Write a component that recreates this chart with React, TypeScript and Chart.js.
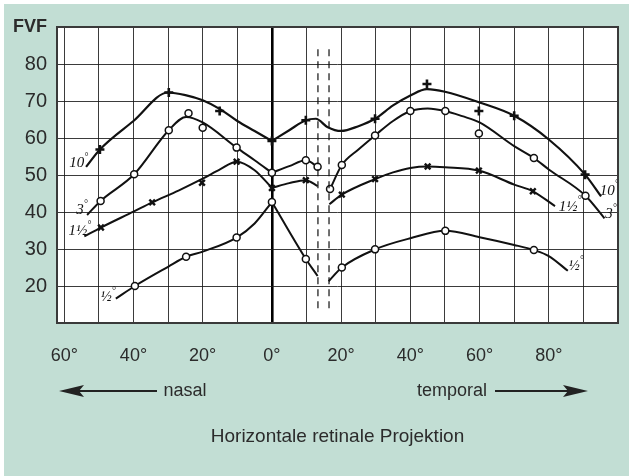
import React, { useEffect, useRef } from "react";
import { Chart, registerables } from "chart.js";

Chart.register(...registerables);

type Pt = [number, number];

// x = horizontal retinal projection in degrees (negative = nasal), y = FVF
const curve10Nasal: Pt[] = [[-53.7, 52.2], [-49.7, 56.9], [-40, 64.6], [-30, 72.3], [-25, 71.6], [-20, 70.2], [-15, 67.8], [-10, 64.6], [-5, 61.9], [0, 59.2]];
const curve10Temporal: Pt[] = [[0, 59.2], [5, 62.1], [9.8, 64.8], [12.7, 65.2], [16, 63.0], [20, 61.9], [25, 63.2], [29.8, 65.2], [35, 68.8], [40, 71.5], [44.8, 73.2], [50, 72.5], [60, 69.6], [70, 66.0], [80, 59.6], [90.5, 50.1], [95.1, 44.2]];
const marks10: Pt[] = [[-49.7, 56.9], [-29.8, 72.3], [-15.1, 67.3], [0, 59.2], [9.8, 64.8], [29.8, 65.2], [44.8, 74.6], [59.8, 67.3], [70, 66.0], [90.5, 50.1]];

const curve3NasalA: Pt[] = [[-53.4, 39.2], [-49.5, 43.0], [-39.8, 50.2], [-29.8, 62.1], [-24.8, 65.7], [-20, 64.2], [-10.2, 57.4], [-5, 54.0], [0, 50.6]];
const curve3NasalB: Pt[] = [[0, 50.6], [5, 52.4], [9.8, 54.0], [13.2, 52.2]];
const curve3Temporal: Pt[] = [[16.8, 46.2], [20.2, 52.7], [25, 56.9], [29.8, 60.7], [35, 64.6], [40, 67.3], [45, 68.0], [50.1, 67.3], [55, 65.9], [60, 64.2], [70, 57.8], [75.7, 54.6], [80, 51.5], [90.6, 44.4], [96.1, 38.3]];
const marks3: Pt[] = [[-49.5, 43.0], [-39.8, 50.2], [-29.8, 62.1], [-24.1, 66.7], [-20, 62.8], [-10.2, 57.4], [0, 50.6], [9.8, 54.0], [13.2, 52.2], [16.8, 46.2], [20.2, 52.7], [29.8, 60.7], [40, 67.3], [50.1, 67.3], [59.8, 61.2], [75.7, 54.6], [90.6, 44.4]];

const curve15NasalA: Pt[] = [[-54.2, 33.4], [-49.4, 35.8], [-40, 40.1], [-34.6, 42.6], [-27, 45.8], [-20, 49.0], [-15, 51.5], [-10.2, 53.6], [-5, 51.3], [0, 46.5]];
const curve15NasalB: Pt[] = [[0, 46.5], [5, 47.8], [9.8, 48.6], [13.2, 47.0]];
const curve15Temporal: Pt[] = [[16.6, 42.1], [20.2, 44.7], [29.8, 48.9], [35, 50.7], [40, 51.9], [45, 52.3], [50, 52.1], [59.8, 51.2], [70, 47.4], [75.4, 45.6], [81.8, 41.6]];
const marks15: Pt[] = [[-49.4, 35.8], [-34.6, 42.6], [-20.2, 47.9], [-10.2, 53.6], [0, 46.5], [9.8, 48.6], [20.2, 44.7], [29.8, 48.9], [45, 52.3], [59.8, 51.2], [75.4, 45.6]];

const curveHalfNasalA: Pt[] = [[-45.1, 16.6], [-39.6, 20.0], [-30, 25.2], [-24.8, 27.9], [-20, 29.3], [-10.2, 33.1], [-5, 36.9], [0, 42.7]];
const curveHalfNasalB: Pt[] = [[0, 42.7], [9.8, 27.3], [13.2, 22.7]];
const curveHalfTemporal: Pt[] = [[16.4, 21.3], [20.2, 25.0], [29.8, 29.9], [40, 32.9], [50.1, 34.9], [60, 33.2], [70, 31.1], [75.7, 29.7], [80, 28.1], [85.5, 24.1]];
const marksHalf: Pt[] = [[-39.6, 20.0], [-24.8, 27.9], [-10.2, 33.1], [0, 42.7], [9.8, 27.3], [20.2, 25.0], [29.8, 29.9], [50.1, 34.9], [75.7, 29.7]];

// curve labels: [base text, x, y]
const curveLabels: [string, number, number][] = [
  ["10", -55.8, 53.8], ["3", -54.9, 41.1], ["1½", -55.5, 35.4], ["½", -47.3, 17.5],
  ["10", 97.5, 46.3], ["3", 98.0, 39.9], ["1½", 86.2, 42.0], ["½", 87.9, 25.9],
];

// blind spot boundaries (dashed)
const blindSpotX = [13.3, 16.5];
const blindSpotY: [number, number] = [13.4, 84];

const X_MIN = -62.1, X_MAX = 100, Y_MIN = 10, Y_MAX = 90;
const GREEN = "rgb(194,222,212)";
const INK = "#111";
const TEXT = "#2b2b2b";
const SANS = '"Liberation Sans", Arial, sans-serif';

const xy = (a: Pt[]) => a.map(([x, y]) => ({ x, y }));

const lineDs = (a: Pt[], w = 2) => ({
  data: xy(a), borderColor: INK, borderWidth: w, pointRadius: 0,
  cubicInterpolationMode: "monotone" as const, fill: false, order: 2,
});
const markDs = (a: Pt[], style: string, r: number, bw: number, bg: string) => ({
  data: xy(a), showLine: false, pointStyle: style, pointRadius: r,
  pointBorderWidth: bw, pointBorderColor: INK, pointBackgroundColor: bg, order: 1,
});

const decor = {
  id: "decor",
  beforeDraw(chart: any) {
    const { ctx, width, height, chartArea: a } = chart;
    ctx.save();
    ctx.fillStyle = "#fff";
    ctx.fillRect(0, 0, width, height);
    ctx.fillStyle = GREEN;
    ctx.fillRect(4, 4, width - 4, height - 4);
    ctx.fillStyle = "#fff";
    ctx.fillRect(a.left, a.top, a.right - a.left, a.bottom - a.top);
    ctx.restore();
  },
  afterDatasetsDraw(chart: any) {
    const { ctx } = chart;
    const sx = chart.scales.x, sy = chart.scales.y;
    ctx.save();
    ctx.strokeStyle = INK;
    ctx.lineWidth = 1.2;
    ctx.setLineDash([7, 5]);
    for (const bx of blindSpotX) {
      const px = sx.getPixelForValue(bx);
      ctx.beginPath();
      ctx.moveTo(px, sy.getPixelForValue(blindSpotY[1]));
      ctx.lineTo(px, sy.getPixelForValue(blindSpotY[0]));
      ctx.stroke();
    }
    ctx.setLineDash([]);
    ctx.fillStyle = INK;
    ctx.textBaseline = "middle";
    for (const [t, x, y] of curveLabels) {
      const px = sx.getPixelForValue(x), py = sy.getPixelForValue(y);
      ctx.font = 'italic 15px "Liberation Serif", serif';
      const w = ctx.measureText(t).width;
      ctx.font = 'italic 10px "Liberation Serif", serif';
      const wd = ctx.measureText("°").width;
      const x0 = px - (w + wd) / 2;
      ctx.font = 'italic 15px "Liberation Serif", serif';
      ctx.textAlign = "left";
      ctx.fillText(t, x0, py + 2);
      ctx.font = 'italic 10px "Liberation Serif", serif';
      ctx.fillText("°", x0 + w, py - 4);
    }
    ctx.restore();
  },
  afterDraw(chart: any) {
    const { ctx, chartArea: a } = chart;
    ctx.save();
    ctx.strokeStyle = "#3a3a3a";
    ctx.lineWidth = 2;
    ctx.strokeRect(a.left, a.top, a.right - a.left, a.bottom - a.top);

    const ya = a.bottom + 68;
    ctx.fillStyle = TEXT;
    ctx.font = `18px ${SANS}`;
    ctx.textBaseline = "middle";
    ctx.textAlign = "center";
    ctx.fillText("nasal", 185, ya);
    ctx.fillText("temporal", 452, ya);
    ctx.font = `19px ${SANS}`;
    ctx.fillText("Horizontale retinale Projektion", (a.left + a.right) / 2, a.bottom + 114);

    ctx.strokeStyle = "#222";
    ctx.fillStyle = "#222";
    ctx.lineWidth = 1.8;
    ctx.beginPath();
    ctx.moveTo(157, ya); ctx.lineTo(75, ya);
    ctx.moveTo(495, ya); ctx.lineTo(570, ya);
    ctx.stroke();
    ctx.beginPath();
    ctx.moveTo(59, ya); ctx.lineTo(84, ya - 6); ctx.lineTo(79, ya); ctx.lineTo(84, ya + 6); ctx.closePath();
    ctx.fill();
    ctx.beginPath();
    ctx.moveTo(588, ya); ctx.lineTo(563, ya - 6); ctx.lineTo(568, ya); ctx.lineTo(563, ya + 6); ctx.closePath();
    ctx.fill();
    ctx.restore();
  },
};

export default function App() {
  const ref = useRef<HTMLCanvasElement>(null);
  useEffect(() => {
    if (!ref.current) return;
    const chart = new Chart(ref.current, {
      type: "line",
      data: {
        datasets: [
          markDs(marks10, "cross", 4.5, 2.6, INK),
          markDs(marks3, "circle", 3.5, 1.5, "#fff"),
          markDs(marks15, "crossRot", 4, 2.4, INK),
          markDs(marksHalf, "circle", 3.5, 1.5, "#fff"),
          lineDs(curve10Nasal, 2.2), lineDs(curve10Temporal, 2.2),
          lineDs(curve3NasalA), lineDs(curve3NasalB), lineDs(curve3Temporal),
          lineDs(curve15NasalA), lineDs(curve15NasalB), lineDs(curve15Temporal),
          lineDs(curveHalfNasalA), lineDs(curveHalfNasalB), lineDs(curveHalfTemporal),
        ] as any,
      },
      options: {
        animation: false,
        responsive: true,
        maintainAspectRatio: false,
        events: [],
        layout: { padding: { top: 27, right: 11, left: 0, bottom: 0 } },
        plugins: { legend: { display: false }, tooltip: { enabled: false } },
        scales: {
          x: {
            type: "linear", min: X_MIN, max: X_MAX,
            border: { display: false },
            grid: {
              color: (c: any) => (c.tick && c.tick.value === 0 ? "#000" : "rgba(25,25,25,0.85)"),
              lineWidth: (c: any) => (c.tick && c.tick.value === 0 ? 2.6 : 1),
              drawTicks: false,
            },
            ticks: {
              stepSize: 10, includeBounds: false, autoSkip: false, maxRotation: 0, minRotation: 0,
              padding: 22, color: TEXT, font: { family: SANS, size: 18 },
              callback: (v: any) => {
                const r = Math.round(v);
                return r % 20 === 0 && r <= 80 ? `${Math.abs(r)}°` : "";
              },
            },
            afterFit: (s: any) => { s.height = 476 - 323; s.paddingRight = 0; s.paddingLeft = 0; },
          },
          y: {
            type: "linear", min: Y_MIN, max: Y_MAX,
            border: { display: false },
            grid: { color: "rgba(25,25,25,0.85)", lineWidth: 1, drawTicks: false },
            ticks: {
              stepSize: 10, padding: 10, color: TEXT,
              font: (c: any) => (c.tick && c.tick.value === 90
                ? { family: SANS, size: 18, weight: "bold" }
                : { family: SANS, size: 20 }),
              callback: (v: any) => (v === 90 ? "FVF" : v === 10 ? "" : String(v)),
            },
            afterFit: (s: any) => { s.width = 57; },
          },
        },
      } as any,
      plugins: [decor],
    });
    return () => chart.destroy();
  }, []);
  return (
    <div style={{ position: "fixed", left: 0, top: 0, width: 629, height: 476 }}>
      <canvas ref={ref} />
    </div>
  );
}
